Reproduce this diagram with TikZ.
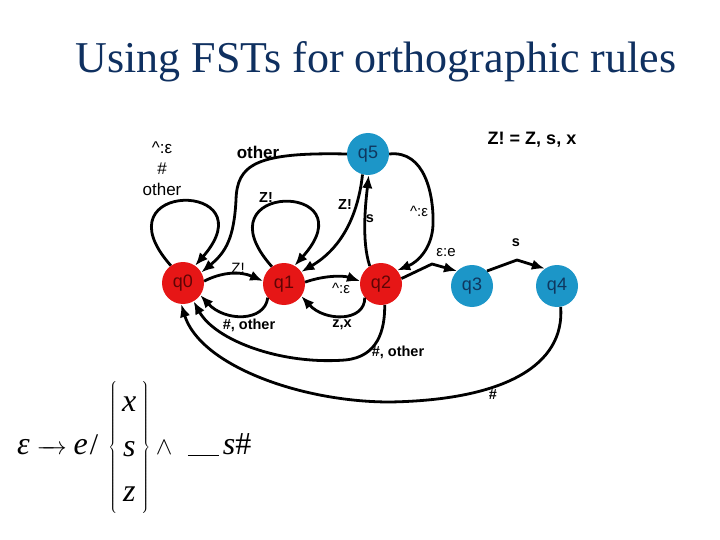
\documentclass[tikz,border=0pt]{standalone}
\usepackage{fontspec}
\usetikzlibrary{arrows.meta}
\newfontfamily\lsans{Liberation Sans}
\newfontfamily\tserif{Liberation Serif}
\definecolor{nred}{RGB}{230,22,22}
\definecolor{nblue}{RGB}{28,150,200}
\definecolor{tred}{RGB}{95,5,5}
\definecolor{tblue}{RGB}{15,55,95}
\definecolor{titlec}{RGB}{15,48,96}
\newcommand{\tmi}[1]{\mbox{\tserif\itshape\fontsize{32}{36}\selectfont #1}}
\begin{document}
\begin{tikzpicture}[x=1pt,y=-1pt,
  st/.style={circle, minimum size=42pt, inner sep=0pt, font=\lsans\fontsize{18}{20}\selectfont},
  rst/.style={st, fill=nred, text=tred},
  bst/.style={st, fill=nblue, text=tblue},
  edge/.style={line width=2.8pt, line join=round, -{Latex[length=13pt,width=10.5pt]}},
  lab/.style={font=\lsans\bfseries\fontsize{14.5}{16}\selectfont, inner sep=0pt},
  labr/.style={font=\lsans\fontsize{15}{17}\selectfont, inner sep=0pt},
]
\path[fill=white] (0,0) rectangle (720,540);
\useasboundingbox (0,0) rectangle (720,540);

% title
\node[anchor=base, inner sep=0pt, text=titlec, font=\tserif\fontsize{44}{50}\selectfont] (title) at (376,73) {Using FSTs for orthographic rules};

% states
\node[rst] (q0) at (183,283) {q0};
\node[rst] (q1) at (284,284) {q1};
\node[rst] (q2) at (381,284) {q2};
\node[bst] (q3) at (472,286) {q3};
\node[bst] (q4) at (557,286) {q4};
\node[bst] (q5) at (368,154) {q5};

% edges
\draw[edge] (q0.125) .. controls (95,180) and (270,180) .. (q0.55);
\draw[edge] (q1.125) .. controls (196,181) and (371,181) .. (q1.60);
\draw[edge] (q5.west) .. controls (255,152) and (237,165) .. (236,200) .. controls (234,238) and (226,252) .. (q0.30);
\draw[edge] (q5.255) .. controls (358,215) and (342,248) .. (q1.35);
\draw[edge] (q2.122) .. controls (361,240) and (366,200) .. (q5.272);
\draw[edge] (q5.east) .. controls (425,150) and (434,195) .. (433,225) .. controls (432,248) and (418,262) .. (q2.40);
\draw[edge] (q0.5) .. controls (222,272) and (240,271) .. (q1.172);
\draw[edge] (q1.5) .. controls (322,276) and (342,275) .. (q2.172);
\draw[edge] (q1.220) .. controls (265,322) and (225,322) .. (q0.-35);
\draw[edge] (q2.220) .. controls (365,322) and (325,322) .. (q1.-35);
\draw[edge] (q2.-80) .. controls (385,330) and (378,357) .. (345,360) .. controls (280,365) and (215,340) .. (q0.-60);
\draw[edge] (q4.-80) .. controls (565,365) and (505,400) .. (390,402) .. controls (300,402) and (200,365) .. (q0.-95);
\draw[edge] (q2.15) -- (432,264) -- (q3.135);
\draw[edge] (q3.45) -- (517,260) -- (q4.125);

% labels
\node[font=\lsans\fontsize{17}{21}\selectfont, align=center, inner sep=0pt] (l0) at (162,169) {\textasciicircum:ε\\\#\\other};
\node[lab, font=\lsans\bfseries\fontsize{17}{19}\selectfont] (l1) at (258,152) {other};
\node[lab] (l2) at (266,198) {Z!};
\node[lab] (l3) at (345,205) {Z!};
\node[lab] (l4) at (370,219) {s};
\node[labr] (l5) at (419,211) {\textasciicircum:ε};
\node[labr] (l6) at (446,253) {ε:e};
\node[lab] (l7) at (516,243) {s};
\node[lab, font=\lsans\bfseries\fontsize{18}{20}\selectfont] (l8) at (532,140) {Z! = Z, s, x};
\node[labr] (l9) at (238,268) {Z!};
\node[labr] (l10) at (341,288) {\textasciicircum:ε};
\node[lab] (l11) at (249,325) {\#, other};
\node[lab] (l12) at (342,325) {z,x};
\node[lab] (l13) at (398,352) {\#, other};
\node[lab] (l14) at (493,395) {\#};

% rule
\node[anchor=base west, inner sep=0pt, font=\fontsize{36}{43}\selectfont] (rule) at (17,454)
  {$\tmi{ε}\mathrel{\hbox to 30pt{\rightarrowfill}}\tmi{e}\hspace{2pt}\mbox{\tserif\fontsize{30}{34}\selectfont /}\hspace{6pt}\left\{\begin{array}{c}\tmi{x}\\[2pt]\tmi{s}\\[2pt]\tmi{z}\end{array}\right\}\wedge\hspace{10pt}\underline{\hspace{31pt}}\hspace{4pt}\tmi{s}\mbox{\tserif\fontsize{32}{36}\selectfont\#}$};
\end{tikzpicture}
\end{document}
